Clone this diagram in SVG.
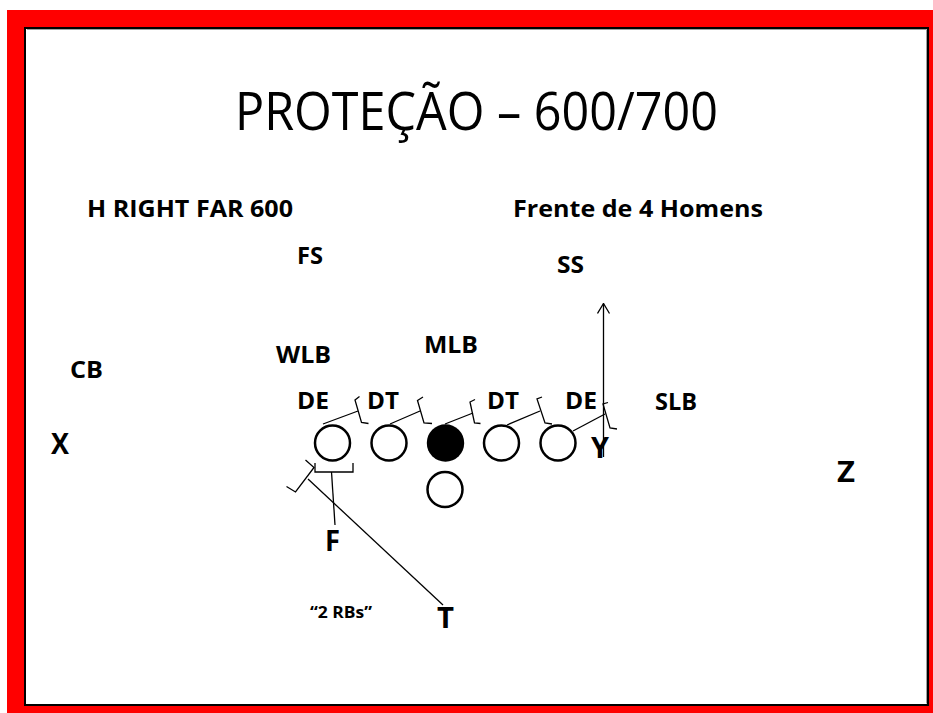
<svg xmlns="http://www.w3.org/2000/svg" width="933" height="713" viewBox="0 0 933 713">
<style>
.lbl{font-family:"Open Sans","Liberation Sans",Arial,sans-serif;font-weight:bold;font-size:23px;fill:#000}
.big{font-size:28px}
.title{font-family:"Open Sans","Liberation Sans",sans-serif;font-size:53px;fill:#000}
.pl{fill:#fff;stroke:#000;stroke-width:2.5}
.ln{fill:none;stroke:#000;stroke-width:1.3;stroke-linejoin:miter}
</style>
<defs>
<marker id="arr" viewBox="0 0 12 14" refX="11" refY="7" markerWidth="12" markerHeight="14" markerUnits="userSpaceOnUse" orient="auto">
<path d="M1,1 L11,7 L1,13" fill="none" stroke="#000" stroke-width="1.3"/>
</marker>
</defs>
<g id="frame">
<rect x="7" y="10" width="926" height="703" fill="#ff0000"/>
<rect x="25" y="28" width="903" height="677" fill="#fff" stroke="#000" stroke-width="2"/>
<path d="M27,29.5 H926.5 V703.5" fill="none" stroke="#a0a0a0" stroke-width="1"/>
</g>
<g id="title"><text class="title" x="235" y="130" textLength="483" lengthAdjust="spacingAndGlyphs">PROTEÇÃO – 600/700</text></g>
<g id="formation-name"><text class="lbl" x="87" y="217" textLength="206" lengthAdjust="spacingAndGlyphs">H RIGHT FAR 600</text></g>
<g id="front-name"><text class="lbl" x="513" y="217" textLength="250" lengthAdjust="spacingAndGlyphs">Frente de 4 Homens</text></g>
<g id="FS"><text class="lbl" x="297" y="264" textLength="26" lengthAdjust="spacingAndGlyphs">FS</text></g>
<g id="SS"><text class="lbl" x="557" y="273" textLength="27" lengthAdjust="spacingAndGlyphs">SS</text></g>
<g id="WLB"><text class="lbl" x="276" y="363" textLength="55" lengthAdjust="spacingAndGlyphs">WLB</text></g>
<g id="MLB"><text class="lbl" x="424" y="353" textLength="54" lengthAdjust="spacingAndGlyphs">MLB</text></g>
<g id="CB"><text class="lbl" x="70" y="378" textLength="33" lengthAdjust="spacingAndGlyphs">CB</text></g>
<g id="DE-left"><text class="lbl" x="297" y="409" textLength="32" lengthAdjust="spacingAndGlyphs">DE</text></g>
<g id="DT-left"><text class="lbl" x="367" y="409" textLength="32" lengthAdjust="spacingAndGlyphs">DT</text></g>
<g id="DT-right"><text class="lbl" x="487" y="409" textLength="32" lengthAdjust="spacingAndGlyphs">DT</text></g>
<g id="DE-right"><text class="lbl" x="565" y="409" textLength="32" lengthAdjust="spacingAndGlyphs">DE</text></g>
<g id="SLB"><text class="lbl" x="655" y="410" textLength="42" lengthAdjust="spacingAndGlyphs">SLB</text></g>
<g id="X"><text class="lbl big" x="51" y="454" textLength="18" lengthAdjust="spacingAndGlyphs">X</text></g>
<g id="Y"><text class="lbl big" x="591" y="458" textLength="18" lengthAdjust="spacingAndGlyphs">Y</text></g>
<g id="Z"><text class="lbl big" x="837" y="482" textLength="18" lengthAdjust="spacingAndGlyphs">Z</text></g>
<g id="F"><text class="lbl big" x="325" y="551" textLength="15" lengthAdjust="spacingAndGlyphs">F</text></g>
<g id="T"><text class="lbl big" x="437" y="628" textLength="17" lengthAdjust="spacingAndGlyphs">T</text></g>
<g id="rbs-note"><text class="lbl" style="font-size:16px" x="310" y="618" textLength="62" lengthAdjust="spacingAndGlyphs">“2 RBs”</text></g>
<g id="LT"><circle class="pl" cx="332.5" cy="443" r="17.5"/></g>
<g id="LG"><circle class="pl" cx="389" cy="443" r="17.5"/></g>
<g id="C"><circle cx="445.5" cy="443" r="18.7" fill="#000"/></g>
<g id="RG"><circle class="pl" cx="501.5" cy="443" r="17.5"/></g>
<g id="RT"><circle class="pl" cx="558" cy="443" r="17.5"/></g>
<g id="QB"><circle class="pl" cx="445" cy="489.5" r="17.5"/></g>
<g id="connectors">
<path class="ln" d="M323,424 L358,411"/>
<path class="ln" d="M359.5,396.5 L355,400 L361.5,422.5 L368.5,423.5"/>
<path class="ln" d="M390,424 L420,411"/>
<path class="ln" d="M423,397 L417.5,400.5 L424,423 L432,423.5"/>
<path class="ln" d="M445,424 L473,413"/>
<path class="ln" d="M475,399.5 L470,402 L474.5,423 L480.5,423.5"/>
<path class="ln" d="M507,425 L540,411"/>
<path class="ln" d="M542,397 L537,399 L545,423 L552,424"/>
<path class="ln" d="M573,431 L605,414"/>
<path class="ln" d="M608,402.5 L603,404 L610,428 L617,429"/>
<path class="ln" d="M603.5,457 L603.5,303.5" marker-end="url(#arr)"/>
<path class="ln" d="M315,463 L315,472 L353,472 L353,463"/>
<path class="ln" d="M331.5,472 L335,525"/>
<path class="ln" d="M305.5,460 L314,467.5 L295.5,492 L286.5,486.5"/>
<path class="ln" d="M308,479 L443,605"/>
</g>
</svg>
